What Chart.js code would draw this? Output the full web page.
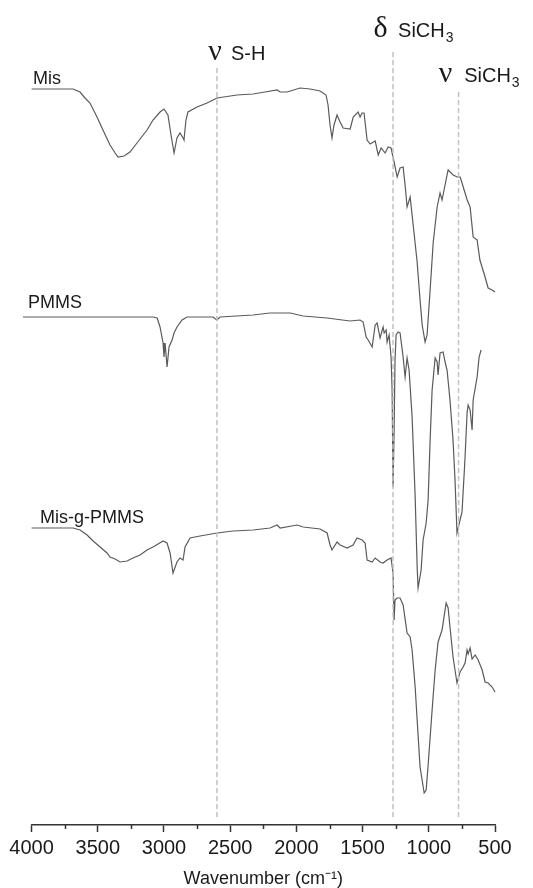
<!DOCTYPE html>
<html>
<head>
<meta charset="utf-8">
<script src="https://cdn.jsdelivr.net/npm/chart.js@4/dist/chart.umd.min.js"></script>
<style>
  html, body { margin: 0; padding: 0; background: #fff; }
  canvas { display: block; }
</style>
</head>
<body>
<canvas id="c" width="533" height="888"></canvas>
<script>
// ---------- data ----------
const seriesNames = ['Mis', 'PMMS', 'Mis-g-PMMS'];
const xTickValues = [4000, 3500, 3000, 2500, 2000, 1500, 1000, 500];
const xMinorTickValues = [3750, 3250, 2750, 2250, 1750, 1250, 750];

const misWavenumber = [4000,3687,3634,3597,3559,3506,3461,3408,3369,3347,3302,3257,3204,3128,3083,3030,3000,2970,2947,2924,2902,2879,2856,2849,2834,2819,2750,2675,2599,2448,2327,2237,2146,2123,2071,1972,1897,1821,1776,1761,1746,1731,1716,1693,1670,1647,1594,1571,1534,1519,1504,1489,1466,1443,1405,1382,1360,1330,1307,1285,1262,1239,1217,1194,1179,1164,1141,1118,1088,1066,1050,1028,1013,990,967,937,915,900,885,854,816,786,763,740,710,688,665,635,614,575,552,522,500];
const misSignal = [736,736,733,727,722,708,695,680,672,668,669,673,682,695,705,713,716,710,690,672,687,692,687,685,705,713,718,722,727,730,731,733,735,733,733,737,736,734,730,720,700,687,700,710,703,697,696,708,713,708,712,712,685,681,684,670,677,672,678,677,663,648,657,658,640,618,628,600,563,525,500,483,490,535,582,618,632,625,635,655,650,648,648,638,625,618,588,585,565,548,537,535,533];

const pmmsWavenumber = [4065,3785,3483,3181,3082,3052,3030,3007,3000,2992,2977,2962,2939,2924,2902,2864,2826,2630,2600,2577,2327,2199,2071,2047,1949,1769,1595,1519,1496,1473,1458,1428,1405,1390,1368,1345,1337,1322,1315,1300,1285,1277,1270,1262,1255,1247,1232,1217,1194,1179,1164,1149,1126,1103,1088,1081,1058,1043,1020,1005,990,975,952,937,930,915,892,877,862,840,817,802,787,764,749,726,711,703,688,673,665,635,620,605];
const pmmsSignal = [508,508,508,508,508,507,498,482,468,482,458,478,485,492,498,505,508,508,505,508,510,512,512,512,509,507,504,505,503,488,485,478,500,502,487,498,492,495,483,490,468,435,338,395,465,490,493,492,468,448,467,455,408,328,258,237,255,285,302,325,385,435,467,463,450,472,473,463,455,425,385,345,292,305,313,368,412,420,415,395,425,448,468,475];

const graftWavenumber = [4000,3687,3634,3581,3535,3483,3430,3408,3369,3332,3279,3234,3181,3128,3083,3007,2977,2954,2932,2902,2879,2856,2841,2803,2728,2599,2479,2327,2199,2146,2123,1995,1949,1821,1768,1746,1731,1693,1670,1617,1572,1542,1504,1481,1466,1428,1405,1368,1345,1315,1285,1270,1262,1255,1240,1217,1194,1164,1141,1126,1103,1088,1066,1035,1020,1005,975,952,930,900,869,854,840,817,787,764,741,726,711,703,688,673,650,627,597,575,552,522,500];
const graftSignal = [297,297,295,290,284,278,272,268,266,263,264,267,270,275,278,284,282,272,252,263,267,265,278,287,289,292,294,295,297,300,297,300,298,296,292,280,275,283,280,277,280,287,285,282,265,263,267,263,262,265,267,252,205,225,227,227,220,192,188,175,138,105,58,32,35,60,115,155,183,195,222,217,198,168,142,153,158,162,175,171,177,166,170,165,155,143,142,138,133];

// band marker lines (wavenumber, top, bottom in signal units)
const markerWavenumber = [2600, 1270, 775];
const markerTop = [759, 774, 733];
const markerBottom = 8;
const bandGreek = ['ν', 'δ', 'ν'];
const bandText = ['S-H', 'SiCH', 'SiCH'];
const bandSub = ['', '3', '3'];

// ---------- layout / style (not data) ----------
const SANS = '"Liberation Sans", Arial, Helvetica, sans-serif';
const SERIF = '"Liberation Serif", "Times New Roman", serif';
const seriesLabelAnchor = [[3990, 741], [4027, 517], [3937, 302]];
const bandGreekAnchor = [[2665, 765], [1418, 788], [925, 743]];
const bandTextAnchor = [[2494, 765], [1232, 788], [733, 743]];

function pts(xs, ys) { return xs.map((v, i) => ({ x: v, y: ys[i] })); }

const traceStyle = { borderColor: '#5a5a5a', borderWidth: 1.2, pointRadius: 0, tension: 0, fill: false, clip: false };
const datasets = [
  Object.assign({ label: seriesNames[0], data: pts(misWavenumber, misSignal) }, traceStyle),
  Object.assign({ label: seriesNames[1], data: pts(pmmsWavenumber, pmmsSignal) }, traceStyle),
  Object.assign({ label: seriesNames[2], data: pts(graftWavenumber, graftSignal) }, traceStyle)
];
markerWavenumber.forEach((w, i) => {
  datasets.unshift({
    label: 'marker' + i,
    data: [{ x: w, y: markerBottom }, { x: w, y: markerTop[i] }],
    borderColor: '#c0c0c0', borderWidth: 1.5, borderDash: [5, 3],
    pointRadius: 0, fill: false, clip: false
  });
});

const annotate = {
  id: 'annotate',
  afterDraw(chart) {
    const { ctx, scales: { x, y } } = chart;
    ctx.save();
    // minor ticks
    ctx.strokeStyle = '#333';
    ctx.lineWidth = 1.5;
    xMinorTickValues.forEach(v => {
      const px = Math.round(x.getPixelForValue(v)) + 0.5;
      ctx.beginPath();
      ctx.moveTo(px, x.top);
      ctx.lineTo(px, x.top + 4);
      ctx.stroke();
    });
    // series names
    ctx.fillStyle = '#1a1a1a';
    ctx.textAlign = 'left';
    ctx.textBaseline = 'alphabetic';
    ctx.font = '18px ' + SANS;
    seriesNames.forEach((n, i) => {
      ctx.fillText(n, x.getPixelForValue(seriesLabelAnchor[i][0]), y.getPixelForValue(seriesLabelAnchor[i][1]));
    });
    // band labels
    bandGreek.forEach((g, i) => {
      ctx.font = '30px ' + SERIF;
      ctx.fillText(g, x.getPixelForValue(bandGreekAnchor[i][0]), y.getPixelForValue(bandGreekAnchor[i][1]));
      ctx.font = '20px ' + SANS;
      const tx = x.getPixelForValue(bandTextAnchor[i][0]);
      const ty = y.getPixelForValue(bandTextAnchor[i][1]);
      ctx.fillText(bandText[i], tx, ty);
      if (bandSub[i]) {
        const w = ctx.measureText(bandText[i]).width;
        ctx.font = '14px ' + SANS;
        ctx.fillText(bandSub[i], tx + w + 1, ty + 5);
      }
    });
    ctx.restore();
  }
};

new Chart(document.getElementById('c'), {
  type: 'line',
  data: { datasets },
  options: {
    responsive: false,
    animation: false,
    devicePixelRatio: 1,
    layout: { padding: { left: 31.6, right: 38, top: 0, bottom: 0 } },
    plugins: { legend: { display: false }, tooltip: { enabled: false } },
    scales: {
      x: {
        type: 'linear',
        position: 'bottom',
        reverse: true,
        min: 500,
        max: 4000,
        afterBuildTicks: (s) => { s.ticks = xTickValues.map(v => ({ value: v })); },
        afterFit: (s) => { s.height = 63; },
        ticks: {
          font: { family: SANS, size: 20 },
          color: '#1a1a1a',
          padding: 4,
          maxRotation: 0,
          autoSkip: false,
          callback: (v) => String(v)
        },
        grid: { drawOnChartArea: false, drawTicks: true, tickLength: 7, tickColor: '#333', tickWidth: 1.5 },
        border: { display: true, color: '#333', width: 1.5 },
        title: {
          display: true,
          text: 'Wavenumber (cm⁻¹)',
          font: { family: SANS, size: 18, lineHeight: 1 },
          color: '#1a1a1a',
          padding: { top: 0, bottom: 0 }
        }
      },
      y: { display: false, min: 0, max: 825 }
    }
  },
  plugins: [annotate]
});
</script>
</body>
</html>
